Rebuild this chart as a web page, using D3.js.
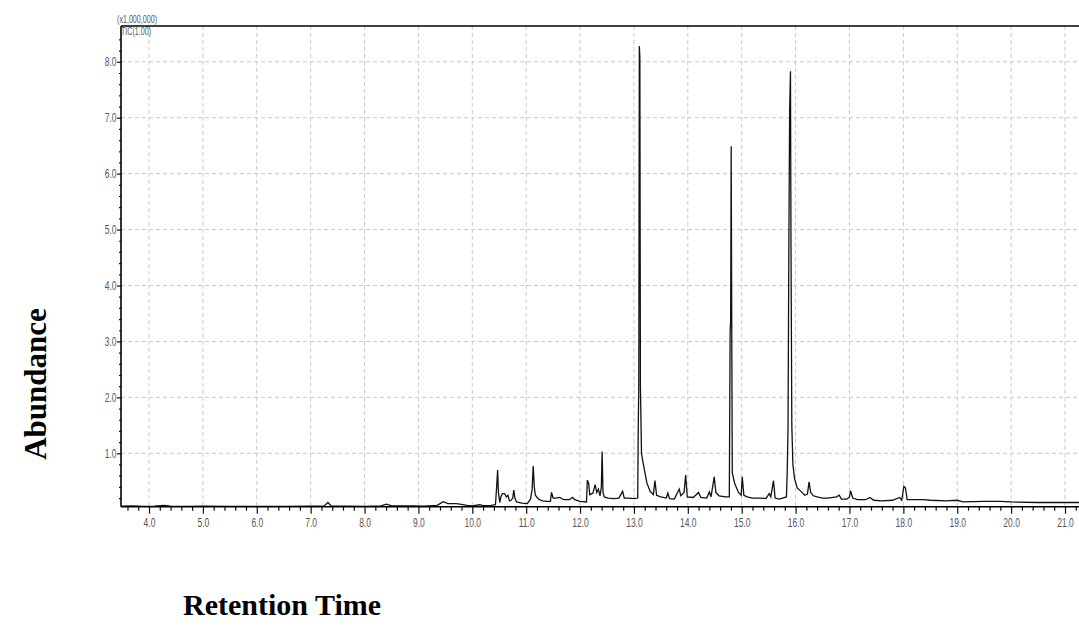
<!DOCTYPE html>
<html>
<head>
<meta charset="utf-8">
<script src="https://cdn.jsdelivr.net/npm/d3@7/dist/d3.min.js"></script>
<style>
  html, body { margin: 0; padding: 0; background: #fff; }
  svg { display: block; }
</style>
</head>
<body>
<svg id="chart" width="1079" height="643"></svg>
<script>
// ---- data ----
const retentionTime = [
  3.50, 3.70, 3.90, 4.10, 4.27, 4.40, 4.70, 5.00, 5.50, 6.00, 6.50, 7.00, 7.25, 7.32, 7.38, 7.70,
  8.00, 8.30, 8.41, 8.50, 8.90, 9.10, 9.35, 9.46, 9.55, 9.70, 9.77, 9.90, 10.00, 10.14, 10.20, 10.35,
  10.43, 10.455, 10.47, 10.485, 10.51, 10.53, 10.56, 10.60, 10.63, 10.66, 10.69, 10.72, 10.75, 10.77,
  10.79, 10.82, 10.92, 11.02, 11.08, 11.11, 11.13, 11.15, 11.17, 11.23, 11.30, 11.38, 11.45, 11.47,
  11.50, 11.55, 11.62, 11.70, 11.80, 11.86, 11.90, 12.00, 12.12, 12.135, 12.16, 12.18, 12.24, 12.28,
  12.31, 12.34, 12.37, 12.395, 12.41, 12.425, 12.45, 12.52, 12.63, 12.72, 12.79, 12.82, 12.90, 13.00,
  13.07, 13.08, 13.09, 13.10, 13.11, 13.12, 13.14, 13.17, 13.24, 13.30, 13.36, 13.39, 13.42, 13.50,
  13.60, 13.63, 13.66, 13.75, 13.84, 13.87, 13.93, 13.96, 13.99, 14.10, 14.20, 14.24, 14.35, 14.40,
  14.43, 14.49, 14.52, 14.58, 14.70, 14.77, 14.785, 14.795, 14.805, 14.815, 14.825, 14.87, 14.94, 14.99,
  15.01, 15.04, 15.10, 15.20, 15.34, 15.45, 15.51, 15.54, 15.59, 15.62, 15.70, 15.83, 15.845, 15.86,
  15.875, 15.89, 15.905, 15.915, 15.93, 15.95, 15.98, 16.03, 16.11, 16.17, 16.22, 16.25, 16.28, 16.33,
  16.40, 16.50, 16.60, 16.76, 16.81, 16.85, 16.95, 17.00, 17.02, 17.06, 17.15, 17.30, 17.38, 17.45,
  17.60, 17.80, 17.93, 17.97, 18.01, 18.04, 18.07, 18.20, 18.37, 18.50, 18.80, 19.00, 19.10, 19.50,
  19.80, 20.00, 20.50, 21.00, 21.26
];
const abundance = [
  0.055, 0.060, 0.050, 0.055, 0.070, 0.055, 0.050, 0.055, 0.050, 0.050, 0.050, 0.055, 0.060, 0.120, 0.060, 0.055,
  0.050, 0.060, 0.090, 0.060, 0.060, 0.055, 0.070, 0.135, 0.100, 0.100, 0.090, 0.070, 0.060, 0.080, 0.065, 0.070,
  0.080, 0.450, 0.700, 0.300, 0.120, 0.220, 0.280, 0.280, 0.220, 0.250, 0.150, 0.160, 0.200, 0.340,
  0.200, 0.130, 0.110, 0.100, 0.180, 0.350, 0.770, 0.400, 0.250, 0.180, 0.150, 0.140, 0.140, 0.300,
  0.200, 0.200, 0.210, 0.170, 0.170, 0.210, 0.170, 0.140, 0.130, 0.520, 0.460, 0.260, 0.290, 0.440,
  0.300, 0.360, 0.240, 0.400, 1.030, 0.300, 0.220, 0.200, 0.190, 0.200, 0.320, 0.200, 0.200, 0.190,
  0.200, 1.470, 2.200, 8.280, 8.070, 2.200, 1.000, 0.830, 0.470, 0.320, 0.260, 0.510, 0.250, 0.220,
  0.200, 0.290, 0.190, 0.180, 0.360, 0.240, 0.300, 0.610, 0.220, 0.210, 0.300, 0.210, 0.200, 0.310,
  0.220, 0.580, 0.300, 0.240, 0.220, 0.220, 3.170, 3.380, 6.490, 3.300, 0.650, 0.460, 0.300, 0.250,
  0.580, 0.250, 0.220, 0.200, 0.200, 0.190, 0.280, 0.220, 0.510, 0.200, 0.180, 0.220, 0.670, 1.470,
  4.720, 7.140, 7.830, 4.700, 1.500, 0.800, 0.550, 0.380, 0.310, 0.250, 0.270, 0.490, 0.300, 0.240,
  0.220, 0.200, 0.200, 0.220, 0.250, 0.180, 0.180, 0.220, 0.330, 0.200, 0.170, 0.170, 0.210, 0.160,
  0.150, 0.160, 0.210, 0.160, 0.410, 0.380, 0.170, 0.170, 0.170, 0.160, 0.150, 0.160, 0.130, 0.140,
  0.140, 0.130, 0.120, 0.120, 0.120
];
const xTickValues = [4, 5, 6, 7, 8, 9, 10, 11, 12, 13, 14, 15, 16, 17, 18, 19, 20, 21];
const xTickLabels = ["4.0", "5.0", "6.0", "7.0", "8.0", "9.0", "10.0", "11.0", "12.0", "13.0", "14.0", "15.0", "16.0", "17.0", "18.0", "19.0", "20.0", "21.0"];
const yTickValues = [1, 2, 3, 4, 5, 6, 7, 8];
const yTickLabels = ["1.0", "2.0", "3.0", "4.0", "5.0", "6.0", "7.0", "8.0"];
const scaleNote = "(x1,000,000)";
const traceName = "TIC(1.00)";
const yTitle = "Abundance";
const xTitle = "Retention Time";

// ---- layout ----
const svg = d3.select("#chart");
const L = 121, R = 1079, T = 26, B = 506.7;
const x = d3.scaleLinear().domain([3.48, 21.26]).range([L, R]);
const y = d3.scaleLinear().domain([0.045, 8.64]).range([B, T]);
const tickFont = "'Liberation Sans', Arial, sans-serif";
const NARROW = 0.68;

// grid
const grid = svg.append("g");
grid.selectAll("line.vx").data(xTickValues).join("line")
  .attr("x1", d => x(d)).attr("x2", d => x(d)).attr("y1", T).attr("y2", B)
  .attr("stroke", "#c9c9c9").attr("stroke-width", 1).attr("stroke-dasharray", "4,3");
grid.selectAll("line.hy").data(yTickValues).join("line")
  .attr("x1", L).attr("x2", R).attr("y1", d => y(d)).attr("y2", d => y(d))
  .attr("stroke", "#c9c9c9").attr("stroke-width", 1).attr("stroke-dasharray", "4,3");

// trace
svg.append("clipPath").attr("id", "clip").append("rect")
  .attr("x", L).attr("y", T).attr("width", R - L).attr("height", B - T);
const pts = retentionTime.map((t, i) => [t, abundance[i]]);
const line = d3.line().x(d => x(d[0])).y(d => y(d[1]));
svg.append("path").datum(pts)
  .attr("clip-path", "url(#clip)")
  .attr("d", line)
  .attr("fill", "none").attr("stroke", "#111").attr("stroke-width", 1.3)
  .attr("stroke-linejoin", "miter");

// x axis: minor ticks every 0.2
const xMinor = d3.range(36, 213, 2).map(v => v / 10).filter(v => !xTickValues.some(m => Math.abs(m - v) < 1e-6));
const xAxisMinor = d3.axisBottom(x).tickValues(xMinor).tickSize(4).tickFormat("");
const xAxisMajor = d3.axisBottom(x).tickValues(xTickValues).tickSize(7)
  .tickFormat((d, i) => xTickLabels[i]).tickPadding(4);
const gxm = svg.append("g").attr("transform", `translate(0,${B})`).call(xAxisMinor);
const gx = svg.append("g").attr("transform", `translate(0,${B})`).call(xAxisMajor);
[gxm, gx].forEach(g => {
  g.select(".domain").remove();
  g.selectAll(".tick line").attr("stroke", "#111").attr("stroke-width", 1.2);
});
gx.selectAll("text").attr("fill", "#555").style("font-family", tickFont).style("font-size", "12.5px")
  .attr("transform", `scale(${NARROW},1)`);

// y axis: minor ticks every 0.2
const yMinor = d3.range(1, 43).map(v => v / 5).filter(v => !yTickValues.some(m => Math.abs(m - v) < 1e-6));
const yAxisMinor = d3.axisLeft(y).tickValues(yMinor).tickSize(2).tickFormat("");
const yAxisMajor = d3.axisLeft(y).tickValues(yTickValues).tickSize(4)
  .tickFormat((d, i) => yTickLabels[i]).tickPadding(1);
const gym = svg.append("g").attr("transform", `translate(${L},0)`).call(yAxisMinor);
const gy = svg.append("g").attr("transform", `translate(${L},0)`).call(yAxisMajor);
[gym, gy].forEach(g => {
  g.select(".domain").remove();
  g.selectAll(".tick line").attr("stroke", "#111").attr("stroke-width", 1.2);
});
gy.selectAll("text").attr("fill", "#555").style("font-family", tickFont).style("font-size", "12.5px")
  .attr("x", -4.5 / NARROW)
  .attr("transform", `scale(${NARROW},1)`);

// frame lines
svg.append("line").attr("x1", L).attr("x2", R).attr("y1", B).attr("y2", B)
  .attr("stroke", "#000").attr("stroke-width", 1.6);
svg.append("line").attr("x1", L).attr("x2", L).attr("y1", T).attr("y2", B)
  .attr("stroke", "#000").attr("stroke-width", 1.6);
svg.append("line").attr("x1", L).attr("x2", R).attr("y1", T).attr("y2", T)
  .attr("stroke", "#000").attr("stroke-width", 1.4);

// small labels
svg.append("text").attr("transform", `translate(117,23) scale(${NARROW},1)`).text(scaleNote)
  .attr("fill", "#555").style("font-family", tickFont).style("font-size", "10.5px");
svg.append("text").attr("transform", `translate(121,35) scale(${NARROW},1)`).text(traceName)
  .attr("fill", "#555").style("font-family", tickFont).style("font-size", "10.5px");

// titles
const titleFont = "'Liberation Serif', 'Times New Roman', serif";
svg.append("text")
  .attr("transform", "translate(46,384) rotate(-90)")
  .attr("text-anchor", "middle")
  .style("font-family", titleFont).style("font-weight", "bold").style("font-size", "31px")
  .attr("fill", "#000").text(yTitle);
svg.append("text")
  .attr("x", 282).attr("y", 615)
  .attr("text-anchor", "middle")
  .style("font-family", titleFont).style("font-weight", "bold").style("font-size", "30px")
  .attr("fill", "#000").text(xTitle);
</script>
</body>
</html>
